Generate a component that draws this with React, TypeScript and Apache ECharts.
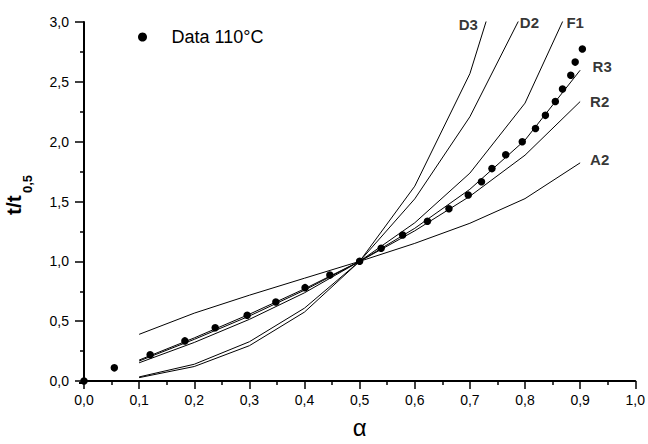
import React, { useEffect, useRef } from "react";
import * as echarts from "echarts";

// Model curves (master plot), evaluated at these conversion values
const modelAlpha = [0.1, 0.2, 0.3, 0.4, 0.5, 0.6, 0.7, 0.8, 0.9];
const curveD3 = [0.028, 0.121, 0.295, 0.576, 1, 1.628, 2.568, 4.051, 6.746];
const curveD2 = [0.034, 0.14, 0.328, 0.609, 1, 1.522, 2.208, 3.116, 4.365];
const curveF1 = [0.152, 0.322, 0.515, 0.737, 1, 1.322, 1.737, 2.322, 3.322];
const curveR3 = [0.167, 0.348, 0.543, 0.759, 1, 1.276, 1.602, 2.013, 2.597];
const curveR2 = [0.175, 0.36, 0.558, 0.77, 1, 1.255, 1.544, 1.887, 2.335];
const curveA2 = [0.39, 0.567, 0.717, 0.859, 1, 1.15, 1.318, 1.524, 1.823];

// Experimental data at 110°C
const dataAlpha = [
  0, 0.055, 0.12, 0.183, 0.238, 0.296, 0.348, 0.401, 0.446, 0.5, 0.539, 0.578, 0.623,
  0.662, 0.697, 0.721, 0.74, 0.765, 0.795, 0.819, 0.837, 0.855, 0.868, 0.883, 0.891, 0.904,
];
const dataT = [
  0, 0.11, 0.22, 0.335, 0.445, 0.55, 0.66, 0.78, 0.885, 1.0, 1.11, 1.22, 1.335,
  1.44, 1.555, 1.665, 1.775, 1.89, 2.0, 2.11, 2.22, 2.335, 2.44, 2.555, 2.665, 2.775,
];

// Curve annotation labels (in data coordinates)
const labelNames = ["D3", "D2", "F1", "R3", "R2", "A2"];
const labelAlpha = [0.697, 0.808, 0.891, 0.94, 0.9355, 0.9355];
const labelT = [2.98, 2.993, 2.993, 2.627, 2.335, 1.847];

const legendName = "Data 110°C";
const FONT = "'Liberation Sans', Arial, Helvetica, sans-serif";

const fmt = (v: number) => v.toFixed(1).replace(".", ",");

export default function App() {
  const ref = useRef<HTMLDivElement>(null);

  useEffect(() => {
    if (!ref.current) return;
    const chart = echarts.init(ref.current, undefined, { renderer: "svg" });

    const curves: [string, number[]][] = [
      ["D3", curveD3],
      ["D2", curveD2],
      ["F1", curveF1],
      ["R3", curveR3],
      ["R2", curveR2],
      ["A2", curveA2],
    ];

    const lineSeries = curves.map(([name, vals]) => ({
      type: "line" as const,
      name,
      data: modelAlpha.map((a, i) => [a, vals[i]]),
      showSymbol: false,
      symbol: "none",
      clip: true,
      lineStyle: { color: "#000", width: 1 },
      silent: true,
      z: 2,
    }));

    chart.setOption({
      animation: false,
      backgroundColor: "#fff",
      grid: { left: 84, right: 11, top: 22, bottom: 61, containLabel: false },
      legend: {
        data: [legendName],
        left: 133,
        top: 23,
        icon: "circle",
        itemWidth: 48,
        itemHeight: 9,
        selectedMode: false,
        itemStyle: { color: "#000", opacity: 1 },
        textStyle: { fontSize: 18, color: "#000", fontFamily: FONT },
      },
      xAxis: {
        type: "value",
        min: 0,
        max: 1,
        interval: 0.1,
        axisLine: { show: true, lineStyle: { color: "#000", width: 2 } },
        axisTick: { show: true, length: 8, lineStyle: { color: "#000", width: 1.5 } },
        minorTick: { show: true, splitNumber: 2, length: 4, lineStyle: { color: "#000", width: 1.5 } },
        splitLine: { show: false },
        axisLabel: {
          formatter: fmt,
          margin: 12,
          fontSize: 14,
          color: "#000",
          fontFamily: FONT,
        },
        name: "α",
        nameLocation: "middle",
        nameGap: 34,
        nameTextStyle: { fontSize: 24, color: "#000", fontFamily: FONT },
      },
      yAxis: {
        type: "value",
        min: 0,
        max: 3,
        interval: 0.5,
        offset: 5,
        axisLine: { show: true, lineStyle: { color: "#000", width: 2 } },
        axisTick: { show: true, length: 9, lineStyle: { color: "#000", width: 1.5 } },
        minorTick: { show: true, splitNumber: 2, length: 4, lineStyle: { color: "#000", width: 1.5 } },
        splitLine: { show: false },
        axisLabel: {
          formatter: fmt,
          margin: 10,
          fontSize: 14,
          color: "#000",
          fontFamily: FONT,
        },
      },
      graphic: [
        {
          type: "line",
          shape: { x1: 79, y1: 383, x2: 85, y2: 383 },
          style: { stroke: "#000", lineWidth: 2 },
          silent: true,
        },
        {
          type: "group",
          x: 13,
          y: 215,
          rotation: Math.PI / 2,
          children: [
            {
              type: "text",
              x: 0,
              y: 0,
              style: {
                text: "t/t",
                font: `bold 21px ${FONT}`,
                fill: "#000",
                align: "left",
                verticalAlign: "middle",
              },
            },
            {
              type: "text",
              x: 22,
              y: 14,
              style: {
                text: "0,5",
                font: `bold 13px ${FONT}`,
                fill: "#000",
                align: "left",
                verticalAlign: "middle",
              },
            },
          ],
        },
      ],
      series: [
        ...lineSeries,
        {
          type: "scatter",
          name: legendName,
          data: dataAlpha.map((a, i) => [a, dataT[i]]),
          symbol: "circle",
          symbolSize: 7.5,
          itemStyle: { color: "#000", opacity: 1 },
          clip: false,
          silent: true,
          z: 5,
        },
        {
          type: "scatter",
          name: "labels",
          data: labelNames.map((n, i) => ({ name: n, value: [labelAlpha[i], labelT[i]] })),
          symbolSize: 0,
          clip: false,
          silent: true,
          label: {
            show: true,
            position: "inside",
            formatter: (p: any) => p.name,
            fontSize: 15,
            fontWeight: "bold",
            color: "#000",
            fontFamily: FONT,
          },
          z: 6,
        },
      ],
    });

    return () => chart.dispose();
  }, []);

  return (
    <div
      ref={ref}
      style={{ position: "fixed", left: 0, top: 0, width: 648, height: 444, background: "#fff" }}
    />
  );
}
